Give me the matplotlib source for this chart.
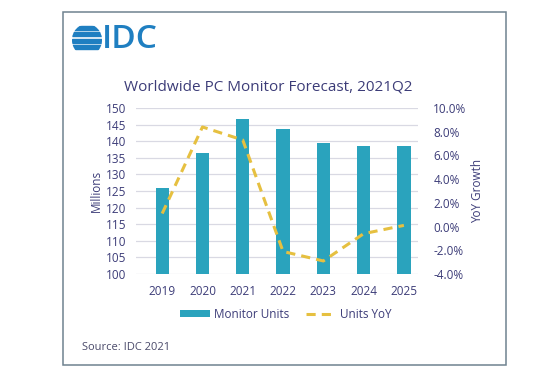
import matplotlib
matplotlib.use('Agg')
import matplotlib.pyplot as plt
from matplotlib.patches import Rectangle, Circle
from matplotlib.ticker import FuncFormatter

plt.rcParams['font.family'] = ['Open Sans', 'DejaVu Sans']

# データ
years = ['2019', '2020', '2021', '2022', '2023', '2024', '2025']
monitor_units = [126, 136.5, 146.7, 143.7, 139.6, 138.5, 138.7]
units_yoy = [1.1, 8.4, 7.3, -2.1, -2.9, -0.6, 0.1]

navy = '#3c3c78'
teal = '#2aa3bd'
gold = '#e6c040'

fig = plt.figure(figsize=(5.51, 3.76), dpi=100)

# 外枠
fig.patches.append(Rectangle((63 / 551, 1 - 365 / 376), (506 - 63) / 551, (365 - 12) / 376,
                             transform=fig.transFigure, fill=False, edgecolor='#6f8390', linewidth=1.1))

# IDC ロゴ
logo = fig.add_axes([72 / 551, 1 - 56 / 376, 30 / 551, 32 / 376])
logo.set_xlim(-1, 1)
logo.set_ylim(-1, 1)
logo.axis('off')
clip = Circle((0, 0), 1, transform=logo.transData)
for yb in [0.62, 0.22, -0.18, -0.58]:
    r = logo.add_patch(Rectangle((-1, yb), 2, 0.26, color='#1f7fc1'))
    r.set_clip_path(clip)
fig.text(102 / 551, 1 - 40 / 376, 'IDC', fontsize=24, color='#1f7fc1', va='center', ha='left',
         fontweight='semibold')

# タイトル
fig.text(268 / 551, 1 - 87 / 376, 'Worldwide PC Monitor Forecast, 2021Q2', fontsize=11,
         color=navy, ha='center', va='center')

ax = fig.add_axes([136 / 551, 1 - 274 / 376, (418 - 136) / 551, (274 - 108) / 376])
x = range(len(years))
ax.bar(x, monitor_units, width=0.33, color=teal, zorder=3, label='Monitor Units')
ax.set_ylim(100, 150)
ax.set_yticks(range(100, 151, 5))
ax.set_xlim(-0.65, 6.35)
ax.set_xticks(list(x))
ax.set_xticklabels(years)
ax.grid(axis='y', color='#d9d9e3', linewidth=0.9, zorder=0)
for s in ax.spines.values():
    s.set_visible(False)
ax.tick_params(length=0, colors=navy, labelsize=8.5, pad=7)
ax.tick_params(axis='x', pad=8)
ax.set_ylabel('Millions', color=navy, fontsize=8.5, labelpad=2)

ax2 = ax.twinx()
ax2.plot(list(x), units_yoy, color=gold, linewidth=2.2, linestyle=(0, (3, 2)), zorder=4, label='Units YoY')
ax2.set_ylim(-4, 10)
ax2.set_yticks(range(-4, 11, 2))
ax2.yaxis.set_major_formatter(FuncFormatter(lambda v, p: '%.1f%%' % v))
for s in ax2.spines.values():
    s.set_visible(False)
ax2.tick_params(length=0, colors=navy, labelsize=8.5, pad=11)
ax2.set_ylabel('YoY Growth', color=navy, fontsize=8.5, labelpad=3)

# 凡例
h1, l1 = ax.get_legend_handles_labels()
h2, l2 = ax2.get_legend_handles_labels()
leg = fig.legend(h1 + h2, l1 + l2, loc='center', bbox_to_anchor=(286 / 551, 1 - 314 / 376),
                 ncol=2, frameon=False, fontsize=8.5, handlelength=2.5, handleheight=0.5,
                 columnspacing=1.4, handletextpad=0.4)
for t in leg.get_texts():
    t.set_color(navy)

fig.text(82 / 551, 1 - 348 / 376, 'Source: IDC 2021', fontsize=8, color='#4a4a6a', va='center')

plt.savefig('out.png', dpi=100)
